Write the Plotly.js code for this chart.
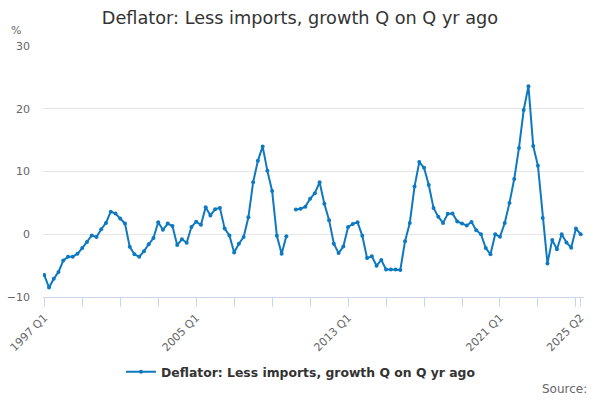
<!DOCTYPE html>
<html>
<head>
<meta charset="utf-8">
<script src="https://cdn.plot.ly/plotly-3.0.1.min.js"></script>
<style>
  body { margin: 0; background: #fff; }
  #chart { width: 600px; height: 400px; }
</style>
</head>
<body>
<div id="chart"></div>
<script>
// Quarters from 1997 Q1 to 2025 Q2
var quarters = [];
for (var yr = 1997; yr <= 2025; yr++) {
    for (var q = 1; q <= 4; q++) {
        if (yr === 2025 && q > 2) break;
        quarters.push(yr + ' Q' + q);
    }
}

// Growth, %, 2010 Q1 missing
var growth = [
    -6.5, -8.5, -7.1, -6.0, -4.2, -3.6, -3.6, -3.1,
    -2.2, -1.25, -0.2, -0.45, 0.8, 1.8, 3.6, 3.3,
    2.5, 1.7, -2.0, -3.2, -3.6, -2.7, -1.6, -0.6,
    1.9, 0.7, 1.7, 1.3, -1.7, -0.8, -1.35, 1.15,
    2.0, 1.5, 4.3, 3.0, 4.0, 4.2, 0.9, -0.2,
    -2.9, -1.5, -0.45, 2.7, 8.3, 11.7, 14.0, 10.1,
    6.9, -0.25, -3.1, -0.3, null, 3.95, 4.05, 4.4,
    5.65, 6.55, 8.3, 4.85, 2.25, -1.5, -3.0, -1.95,
    1.15, 1.65, 1.9, -0.25, -3.8, -3.5, -5.0, -4.1,
    -5.6, -5.6, -5.6, -5.7, -1.1, 1.8, 7.6, 11.5,
    10.6, 7.85, 4.2, 2.8, 1.8, 3.25, 3.3, 2.05,
    1.7, 1.4, 1.95, 0.65, 0.0, -2.2, -3.2, 0.0,
    -0.4, 1.8, 5.0, 8.8, 13.75, 19.8, 23.6, 14.05,
    10.9, 2.6, -4.65, -0.9, -2.4, 0.0, -1.3, -2.15,
    0.9, 0.0
];

var labelledTicks = ['1997 Q1', '2005 Q1', '2013 Q1', '2021 Q1', '2025 Q2'];

// tick every two years plus the last quarter
var tickVals = [];
var tickText = [];
for (var i = 0; i < quarters.length; i += 8) tickVals.push(quarters[i]);
tickVals.push(quarters[quarters.length - 1]);
tickVals.forEach(function (t) {
    tickText.push(labelledTicks.indexOf(t) >= 0 ? t : '');
});

var series = {
    x: quarters,
    y: growth,
    type: 'scatter',
    mode: 'lines+markers',
    name: 'Deflator: Less imports, growth Q on Q yr ago',
    connectgaps: false,
    line: { color: '#0e79c0', width: 2 },
    marker: { color: '#0e79c0', size: 4 }
};

var layout = {
    width: 600,
    height: 400,
    margin: { l: 43, r: 16, t: 46, b: 103 },
    paper_bgcolor: '#fff',
    plot_bgcolor: '#fff',
    font: { family: 'DejaVu Sans, sans-serif', color: '#666', size: 11 },
    title: {
        text: 'Deflator: Less imports, growth Q on Q yr ago',
        font: { size: 17.7, color: '#333' },
        x: 0.5, xanchor: 'center',
        y: 0.955, yanchor: 'middle'
    },
    showlegend: true,
    legend: {
        orientation: 'h',
        x: 0.476, xanchor: 'center',
        y: -0.30, yanchor: 'middle',
        itemwidth: 30,
        font: { size: 12.4, color: '#333', weight: 'bold' }
    },
    xaxis: {
        type: 'category',
        range: [-0.27, 113.7],
        tickmode: 'array',
        tickvals: tickVals,
        ticktext: tickText,
        tickangle: -45,
        ticks: 'outside',
        ticklen: 9,
        tickcolor: '#ccd6eb',
        showline: true,
        linecolor: '#ccd6eb',
        linewidth: 1,
        showgrid: false,
        zeroline: false,
        tickfont: { size: 11, color: '#666' }
    },
    yaxis: {
        range: [-10, 30],
        tickvals: [-10, 0, 10, 20, 30],
        showgrid: true,
        gridcolor: '#e6e6e6',
        zeroline: false,
        showline: false,
        ticklabelstandoff: 12,
        tickfont: { size: 11, color: '#666' }
    },
    annotations: [
        {
            text: '%', xref: 'paper', yref: 'paper',
            x: -0.062, y: 1.06, xanchor: 'left', yanchor: 'middle',
            showarrow: false, font: { size: 11, color: '#666' }
        },
        {
            text: 'Source:', xref: 'paper', yref: 'paper',
            x: 1.01, y: -0.365, xanchor: 'right', yanchor: 'middle',
            showarrow: false, font: { size: 12, color: '#666' }
        }
    ]
};

Plotly.newPlot('chart', [series], layout, { displayModeBar: false, staticPlot: true });
</script>
</body>
</html>
